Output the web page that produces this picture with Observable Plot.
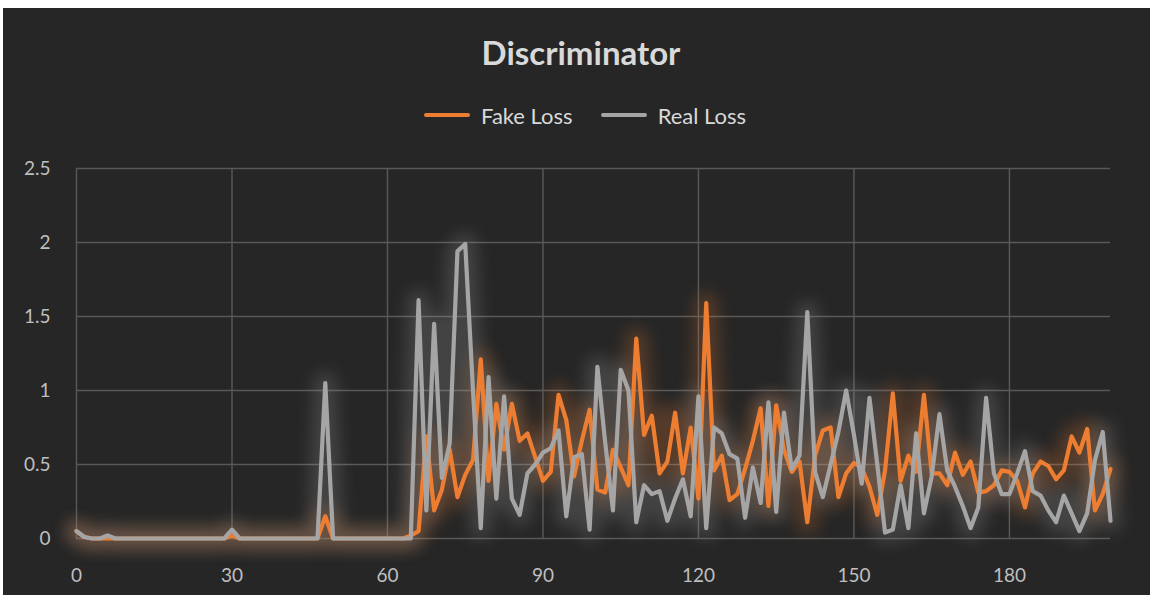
<!DOCTYPE html>
<html>
<head>
<meta charset="utf-8">
<script src="https://cdn.jsdelivr.net/npm/d3@7"></script>
<script src="https://cdn.jsdelivr.net/npm/@observablehq/plot@0.6"></script>
<style>
  html, body { margin: 0; padding: 0; }
  body { width: 1150px; height: 595px; overflow: hidden; background: #ffffff; position: relative;
         font-family: Lato, "Open Sans", "Noto Sans", sans-serif; }
  #frame { position: absolute; left: 3px; top: 8px; width: 1147px; height: 587px; background: #262626; }
  #title { position: absolute; left: 0; width: 1162px; top: 35px; line-height: 34px; text-align: center;
           color: #d9d9d9; font-size: 33px; font-weight: bold; }
  #legend { position: absolute; left: 424px; top: 103px; height: 24px; display: flex; align-items: center;
            color: #d9d9d9; font-size: 22px; }
  .sw { width: 46px; height: 4px; border-radius: 2px; margin-right: 11px; }
  .item { display: flex; align-items: center; margin-right: 28px; }
  #chart { position: absolute; left: 0; top: 140px; }
</style>
</head>
<body>
<div id="frame"></div>
<div id="title">Discriminator</div>
<div id="legend"></div>
<div id="chart"></div>
<script>
// ---- data ----
const seriesNames = ["Fake Loss", "Real Loss"];
const seriesColors = ["#ed7d31", "#a5a5a5"];
const xStep = 1.5;            // spacing of the recorded points on the x axis
const xTicks = [0, 30, 60, 90, 120, 150, 180];
const yTicks = [0, 0.5, 1, 1.5, 2, 2.5];

const fakeLoss = [
  0.05, 0.01, 0, 0, 0, 0, 0, 0, 0, 0,
  0, 0, 0, 0, 0, 0, 0, 0, 0, 0,
  0.02, 0, 0, 0, 0, 0, 0, 0, 0, 0,
  0, 0, 0.15, 0, 0, 0, 0, 0, 0, 0,
  0, 0, 0, 0.02, 0.05, 0.69, 0.19, 0.33, 0.60, 0.28,
  0.43, 0.53, 1.21, 0.39, 0.91, 0.60, 0.91, 0.66, 0.71, 0.55,
  0.39, 0.45, 0.97, 0.80, 0.42, 0.66, 0.87, 0.33, 0.31, 0.60,
  0.48, 0.36, 1.35, 0.70, 0.83, 0.44, 0.52, 0.85, 0.44, 0.75,
  0.27, 1.59, 0.46, 0.56, 0.26, 0.30, 0.47, 0.66, 0.88, 0.22,
  0.90, 0.60, 0.45, 0.52, 0.11, 0.56, 0.73, 0.75, 0.28, 0.44,
  0.51, 0.48, 0.35, 0.16, 0.46, 0.98, 0.39, 0.56, 0.45, 0.97,
  0.44, 0.44, 0.36, 0.58, 0.43, 0.52, 0.31, 0.32, 0.36, 0.46,
  0.45, 0.39, 0.21, 0.44, 0.52, 0.49, 0.40, 0.46, 0.69, 0.58,
  0.74, 0.19, 0.30, 0.47
];
const realLoss = [
  0.05, 0.01, 0, 0, 0.02, 0, 0, 0, 0, 0,
  0, 0, 0, 0, 0, 0, 0, 0, 0, 0,
  0.06, 0, 0, 0, 0, 0, 0, 0, 0, 0,
  0, 0, 1.05, 0, 0, 0, 0, 0, 0, 0,
  0, 0, 0, 0, 1.61, 0.19, 1.45, 0.41, 0.64, 1.94,
  1.99, 1.00, 0.07, 1.09, 0.27, 0.96, 0.27, 0.16, 0.44, 0.50,
  0.58, 0.61, 0.73, 0.15, 0.55, 0.57, 0.06, 1.16, 0.65, 0.19,
  1.14, 1.00, 0.11, 0.36, 0.30, 0.32, 0.12, 0.27, 0.40, 0.15,
  0.96, 0.07, 0.75, 0.71, 0.57, 0.54, 0.14, 0.48, 0.24, 0.92,
  0.18, 0.85, 0.47, 0.56, 1.53, 0.45, 0.28, 0.50, 0.72, 1.00,
  0.70, 0.37, 0.95, 0.50, 0.04, 0.06, 0.36, 0.07, 0.71, 0.17,
  0.42, 0.84, 0.46, 0.35, 0.22, 0.07, 0.21, 0.95, 0.44, 0.30,
  0.30, 0.44, 0.59, 0.32, 0.29, 0.19, 0.11, 0.29, 0.17, 0.05,
  0.17, 0.53, 0.72, 0.12
];

// ---- build table ----
const rows = [];
[fakeLoss, realLoss].forEach((vals, s) => {
  vals.forEach((v, i) => rows.push({ series: seriesNames[s], x: i * xStep, y: v }));
});
const bySeries = name => rows.filter(r => r.series === name);

// ---- legend ----
const legend = document.getElementById("legend");
seriesNames.forEach((n, i) => {
  const it = document.createElement("div");
  it.className = "item";
  it.innerHTML = `<div class="sw" style="background:${seriesColors[i]}"></div><span>${n}</span>`;
  legend.appendChild(it);
});

// ---- chart ----
const glowMarks = seriesNames.map((n, i) => Plot.line(bySeries(n), {
  x: "x", y: "y", stroke: seriesColors[i], strokeWidth: 22, strokeOpacity: 0.24,
  strokeLinejoin: "round", strokeLinecap: "round"
}));
const lineMarks = seriesNames.map((n, i) => Plot.line(bySeries(n), {
  x: "x", y: "y", stroke: seriesColors[i], strokeWidth: 4.2,
  strokeLinejoin: "round", strokeLinecap: "round"
}));

const chart = Plot.plot({
  width: 1150,
  height: 455,
  marginLeft: 76,
  marginRight: 40,
  marginTop: 28,
  marginBottom: 57,
  style: { background: "transparent", color: "#bfbfbf", fontSize: "19px",
           fontFamily: 'Lato, "Open Sans", sans-serif' },
  x: { domain: [0, 199.5], ticks: xTicks, tickSize: 0, tickPadding: 30, label: null,
       tickFormat: d => String(d) },
  y: { domain: [0, 2.5], ticks: yTicks, tickSize: 0, tickPadding: 26, label: null,
       tickFormat: d => String(d) },
  marks: [
    Plot.ruleX(xTicks, { stroke: "#595959", strokeWidth: 1.4 }),
    Plot.ruleY(yTicks, { stroke: "#595959", strokeWidth: 1.4 }),
    ...glowMarks,
    ...lineMarks
  ]
});
document.getElementById("chart").appendChild(chart);
// soften the first two line groups (the glow layers)
const lineGroups = chart.querySelectorAll('g[aria-label="line"]');
[0, 1].forEach(i => { if (lineGroups[i]) lineGroups[i].style.filter = "blur(8px)"; });
</script>
</body>
</html>
